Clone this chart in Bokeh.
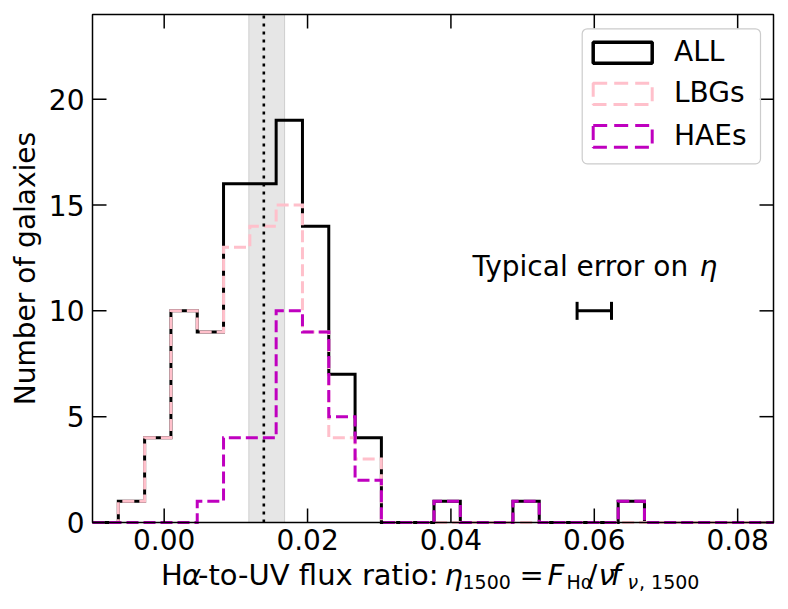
import math
from bokeh.plotting import figure
from bokeh.models import Label, BoxAnnotation, Range1d
from bokeh.core.properties import value
from bokeh.embed import file_html
from bokeh.resources import INLINE

# ---------------- data ----------------
bin_start = -0.01007
bin_width = 0.00367
counts_all = [0, 1, 4, 10, 9, 16, 16, 19, 14, 7, 4, 0, 0, 1, 0, 0, 1, 0, 0, 0, 1, 0, 0, 0, 0, 0]
counts_lbg = [0, 1, 4, 10, 9, 13, 14, 15, 9, 4, 3, 0, 0, 0, 0, 0, 0, 0, 0, 0, 0, 0, 0, 0, 0, 0]
counts_hae = [0, 0, 0, 0, 1, 4, 4, 10, 9, 5, 2, 0, 0, 1, 0, 0, 1, 0, 0, 0, 1, 0, 0, 0, 0, 0]
series_names = ["ALL", "LBGs", "HAEs"]
series_colors = ["black", "#ffc0cb", "#bf00bf"]
median_eta = 0.0139
median_lo, median_hi = 0.0118, 0.0168
err_x, err_y, err_half = 0.0600, 10, 0.0024
x_ticks = [0.00, 0.02, 0.04, 0.06, 0.08]
x_tick_labels = ["0.00", "0.02", "0.04", "0.06", "0.08"]
y_ticks = [0, 5, 10, 15, 20]
y_tick_labels = ["0", "5", "10", "15", "20"]
y_title = "Number of galaxies"
x_min, x_max = -0.01, 0.085
y_min, y_max = 0, 24

FONT = "DejaVu Sans"
FS_PX = 28
XL_PX = 29
SUB_PX = 19
FS = f"{FS_PX}px"
XL = f"{XL_PX}px"
SUB = f"{SUB_PX}px"

# ---------------- layout (pixels) ----------------
W, H = 780, 607
F_LEFT, F_RIGHT, F_TOP, AX_BOTTOM = 92, 773, 14, 522   # plot box in pixels
px_per_y = (AX_BOTTOM - F_TOP) / (y_max - y_min)
px_per_x = (F_RIGHT - F_LEFT) / (x_max - x_min)


def X(px):
    return x_min + (px - F_LEFT) / px_per_x


def Y(py):
    return y_min + (AX_BOTTOM - py) / px_per_y


def YB(baseline_py, size_px):
    # anchor for a "middle" aligned text whose baseline should sit at baseline_py
    return Y(baseline_py - 0.4 * size_px)


edges = [bin_start + i * bin_width for i in range(len(counts_all) + 1)]


def step_path(counts):
    xs, ys = [edges[0]], [0]
    for i, c in enumerate(counts):
        xs += [edges[i], edges[i + 1]]
        ys += [c, c]
    xs.append(edges[-1])
    ys.append(0)
    xs = [min(max(x, x_min), x_max) for x in xs]   # keep inside the plot box
    return xs, ys


# the whole canvas is the drawing area; axes are drawn explicitly
p = figure(width=W, height=H, x_range=Range1d(X(0), X(W)), y_range=Range1d(Y(H), Y(0)),
           x_axis_location=None, y_axis_location=None,
           output_backend="svg", toolbar_location=None,
           min_border_left=0, min_border_right=0, min_border_top=0, min_border_bottom=0)
p.grid.visible = False
p.outline_line_color = None
p.background_fill_color = "white"
p.border_fill_color = "white"

# shaded band (behind everything)
p.add_layout(BoxAnnotation(left=median_lo, right=median_hi, bottom=y_min, top=y_max,
                           fill_color="grey", fill_alpha=0.2, line_color="grey",
                           line_alpha=0.3, line_width=1, level="underlay"))

# histograms
dashes = ["solid", "12 5", "12 5"]
for counts, col, dash in zip([counts_all, counts_lbg, counts_hae], series_colors, dashes):
    xs, ys = step_path(counts)
    p.line(xs, ys, line_color=col, line_width=3, line_dash=dash, line_join="miter")

# median line (inside the plot box only)
p.segment(x0=[median_eta], x1=[median_eta], y0=[y_min], y1=[y_max], line_color="black",
          line_width=2.6, line_dash="3 5")

# plot box and inward ticks on all four sides
p.add_layout(BoxAnnotation(left=x_min, right=x_max, bottom=y_min, top=y_max,
                           fill_color=None, fill_alpha=0, line_color="black",
                           line_alpha=1, line_width=1.5))
tick_kw = dict(length=14, length_units="screen", line_color="black", line_width=1.5)
p.ray(x=x_ticks, y=[y_min] * len(x_ticks), angle=math.pi / 2, **tick_kw)
p.ray(x=x_ticks, y=[y_max] * len(x_ticks), angle=-math.pi / 2, **tick_kw)
p.ray(x=[x_min] * len(y_ticks), y=y_ticks, angle=0, **tick_kw)
p.ray(x=[x_max] * len(y_ticks), y=y_ticks, angle=math.pi, **tick_kw)

# tick labels
p.text(x=x_ticks, y=[YB(550, FS_PX)] * len(x_ticks), text=x_tick_labels,
       text_align="center", text_baseline="middle", text_font=value(FONT),
       text_font_size=value(FS), text_color="black")
p.text(x=[X(84)] * len(y_ticks), y=y_ticks, text=y_tick_labels,
       text_align="right", text_baseline="middle", text_font=value(FONT),
       text_font_size=value(FS), text_color="black")

# y-axis title
p.add_layout(Label(x=X(24.5), y=(y_min + y_max) / 2, text=y_title, angle=math.pi / 2,
                   text_font=FONT, text_font_size=FS, text_color="black",
                   text_align="center", text_baseline="middle"))

# typical error bar
p.segment(x0=[err_x - err_half], x1=[err_x + err_half], y0=[err_y], y1=[err_y],
          line_color="black", line_width=3)
p.scatter(x=[err_x - err_half, err_x + err_half], y=[err_y, err_y], marker="dash",
          angle=math.pi / 2, size=18, line_color="black", line_width=3)
p.add_layout(Label(x=X(472), y=YB(276.7, FS_PX), text="Typical error on ", text_font=FONT,
                   text_font_size=FS, text_color="black", text_baseline="middle"))
p.add_layout(Label(x=X(472), y=YB(276.7, FS_PX), x_offset=227, text="η", text_font=FONT,
                   text_font_size=FS, text_font_style="italic", text_color="black",
                   text_baseline="middle"))

# legend drawn like matplotlib's (boxes as patches)
p.add_layout(BoxAnnotation(left=X(581.7), right=X(760), top=Y(28.3), bottom=Y(163.3),
                           fill_color="white", fill_alpha=0.8, line_color="#cccccc",
                           line_alpha=1, line_width=1.2, border_radius=5))
rows = [(41.7, 62.7), (82.7, 104), (125, 146.7)]
leg_dash = ["solid", "14 7", "14 7"]
leg_w = [3.5, 3, 3]
for (t, b), name, col, dash, lw in zip(rows, series_names, series_colors, leg_dash, leg_w):
    p.add_layout(BoxAnnotation(left=X(592.7), right=X(651.7), top=Y(t), bottom=Y(b),
                               fill_color=None, fill_alpha=0, line_color=col,
                               line_alpha=1, line_width=lw, line_dash=dash))
    p.add_layout(Label(x=X(673.5), y=YB(b - 1, FS_PX), text=name, text_font=FONT,
                       text_font_size=FS, text_color="black", text_baseline="middle"))

# x-axis title built from pieces (mathtext-like)
base_y = YB(586.5, XL_PX)
sub_y = YB(589.5, SUB_PX)
pieces = [
    ("H", 160.5, base_y, XL, "normal"),
    ("α", 181.5, base_y, XL, "italic"),
    ("-to-UV flux ratio:", 197.5, base_y, XL, "normal"),
    ("η", 444, base_y, XL, "italic"),
    ("1500", 462, sub_y, SUB, "normal"),
    ("=", 519, base_y, XL, "normal"),
    ("F", 547, base_y, XL, "italic"),
    ("Hα", 566, sub_y, SUB, "normal"),
    ("/", 587, base_y, XL, "normal"),
    ("ν", 598, base_y, XL, "italic"),
    ("f", 610, base_y, XL, "italic"),
    ("ν", 627, sub_y, SUB, "italic"),
    (", 1500", 638.5, sub_y, SUB, "normal"),
]
for txt, px, y, fs, st in pieces:
    p.add_layout(Label(x=X(px), y=y, text=txt, text_font=FONT, text_font_size=fs,
                       text_font_style=st, text_color="black",
                       text_baseline="middle", text_align="left"))

open("out.html", "w").write(file_html(p, INLINE))
